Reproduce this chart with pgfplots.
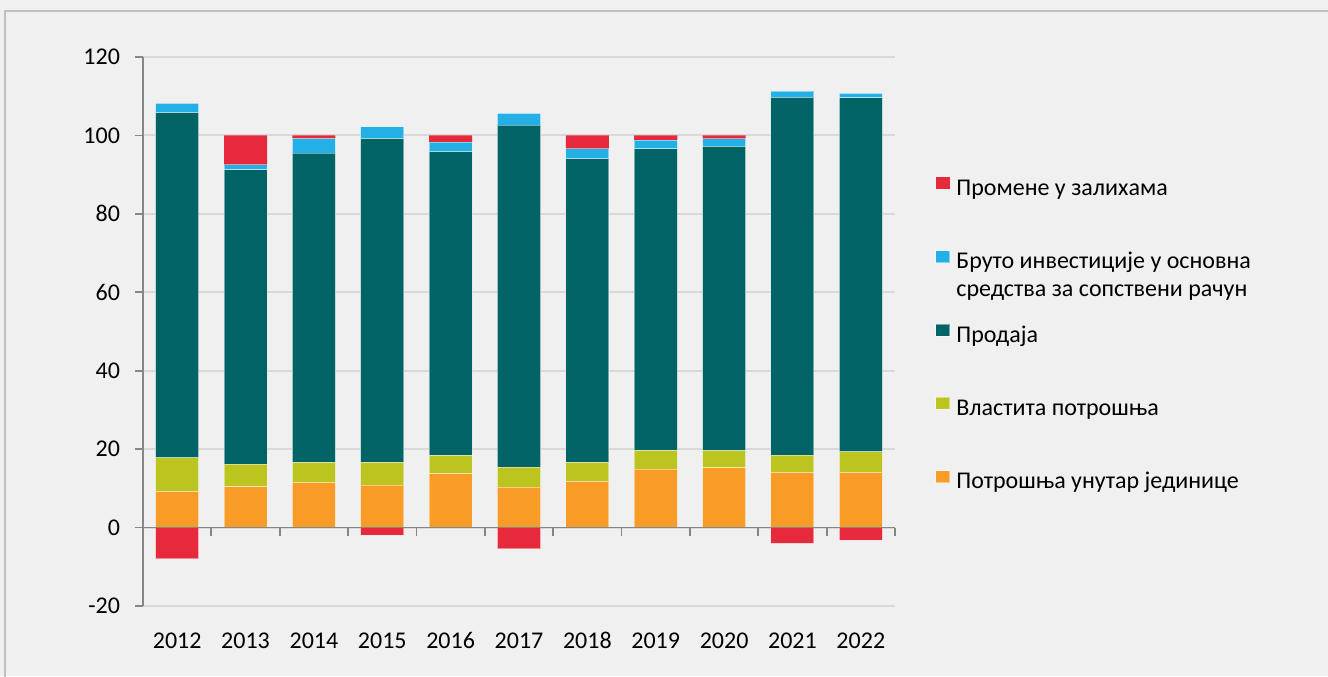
\documentclass[border=0pt]{standalone}
\usepackage{fontspec}
\setmainfont{Carlito}
\usepackage{pgfplots}
\pgfplotsset{compat=1.18}
\definecolor{cred}{HTML}{E62A3C}
\definecolor{cblue}{HTML}{22B0E6}
\definecolor{cteal}{HTML}{006365}
\definecolor{colive}{HTML}{BCC420}
\definecolor{corange}{HTML}{F89B27}
\definecolor{bgcol}{HTML}{F0F0F0}
\definecolor{gridcol}{HTML}{D9D9D9}
\definecolor{axiscol}{HTML}{868686}
\definecolor{framecol}{HTML}{BFBFBF}
\pgfplotsset{
  mybar/.style={fill=#1, draw=white, draw opacity=0.45, line width=0.5pt,
    legend image code/.code={\path[fill=#1] (0pt,0pt) rectangle (7pt,6pt);}},
  common/.style={at={(71.5pt,35pt)}, anchor=south west, scale only axis,
    width=376pt, height=274.5pt, xmin=-0.5, xmax=10.5, ymin=-20, ymax=120,
    bar width=0.63}
}
\begin{document}
\begin{tikzpicture}
\fill[bgcol] (0,0) rectangle (664pt,338pt);
\useasboundingbox (0,0) rectangle (664pt,338pt);
\draw[framecol, line width=1pt] (2.35pt,-2pt) -- (2.35pt,332.6pt) -- (666pt,332.6pt);
\begin{axis}[common,
  ybar stacked,
  ytick={-20,0,...,120}, xtick={0,...,10},
  xticklabels={2012,2013,2014,2015,2016,2017,2018,2019,2020,2021,2022},
  axis y line*=left, axis x line*=bottom, x axis line style={draw=none},
  ymajorgrids, grid style={gridcol, line width=1pt},
  y axis line style={axiscol, line width=0.9pt},
  ytick style={axiscol, line width=0.9pt}, xtick style={draw=none},
  tick align=outside, major tick length=4pt,
  tick label style={font=\fontsize{12}{14}\selectfont, text=black},
  xticklabel style={yshift=-5pt, text height=8.5pt, text depth=0pt},
  yticklabel style={xshift=-4pt},
  /pgf/number format/assume math mode=true,
  reverse legend, legend cell align=left,
  legend style={draw=none, fill=none, at={(1.0532,0.7814)}, anchor=north west,
    row sep=25.4pt, column sep=3pt, inner sep=0pt,
    font=\fontsize{12}{14}\selectfont,
    nodes={inner sep=0pt, text height=8pt, text depth=2pt}},
]
\addplot[mybar=corange] coordinates {(0,9.25) (1,10.4) (2,11.5) (3,10.8) (4,13.75) (5,10.3) (6,11.8) (7,14.9) (8,15.2) (9,14.1) (10,14.1)};
\addplot[mybar=colive] coordinates {(0,8.55) (1,5.8) (2,5.1) (3,5.8) (4,4.65) (5,5.1) (6,4.8) (7,4.8) (8,4.4) (9,4.4) (10,5.2)};
\addplot[mybar=cteal] coordinates {(0,88.0) (1,75.0) (2,78.9) (3,82.6) (4,77.5) (5,87.2) (6,77.5) (7,76.9) (8,77.6) (9,91.2) (10,90.3)};
\addplot[mybar=cblue] coordinates {(0,2.4) (1,1.3) (2,3.7) (3,3.0) (4,2.4) (5,3.0) (6,2.5) (7,2.2) (8,1.9) (9,1.6) (10,1.1)};
\addplot[mybar=cred, draw=none] coordinates {(0,0) (1,7.5) (2,0.8) (3,0) (4,1.7) (5,0) (6,3.4) (7,1.2) (8,0.9) (9,0) (10,0)};
\legend{{Потрошња унутар јединице},{Властита потрошња},{Продаја},{\raisebox{0pt}[\height][0pt]{\begin{tabular}[t]{@{}l@{}}Бруто инвестиције у основна\\средства за сопствени рачун\end{tabular}}},{Промене у залихама}}
\end{axis}
\begin{axis}[common, hide axis, ybar, bar shift=0pt, clip=false]
\addplot[mybar=cred] coordinates {(0,-8.0) (3,-1.9) (5,-5.4) (9,-4.0) (10,-3.2)};
\draw[axiscol, line width=0.9pt] (axis cs:-0.5,0) -- (axis cs:10.5,0);
\pgfplotsinvokeforeach{0.5,1.5,2.5,3.5,4.5,5.5,6.5,7.5,8.5,9.5,10.5}{
  \draw[axiscol, line width=0.9pt] (axis cs:#1,0) -- ([yshift=-4pt]axis cs:#1,0);
}
\end{axis}
\end{tikzpicture}
\end{document}
